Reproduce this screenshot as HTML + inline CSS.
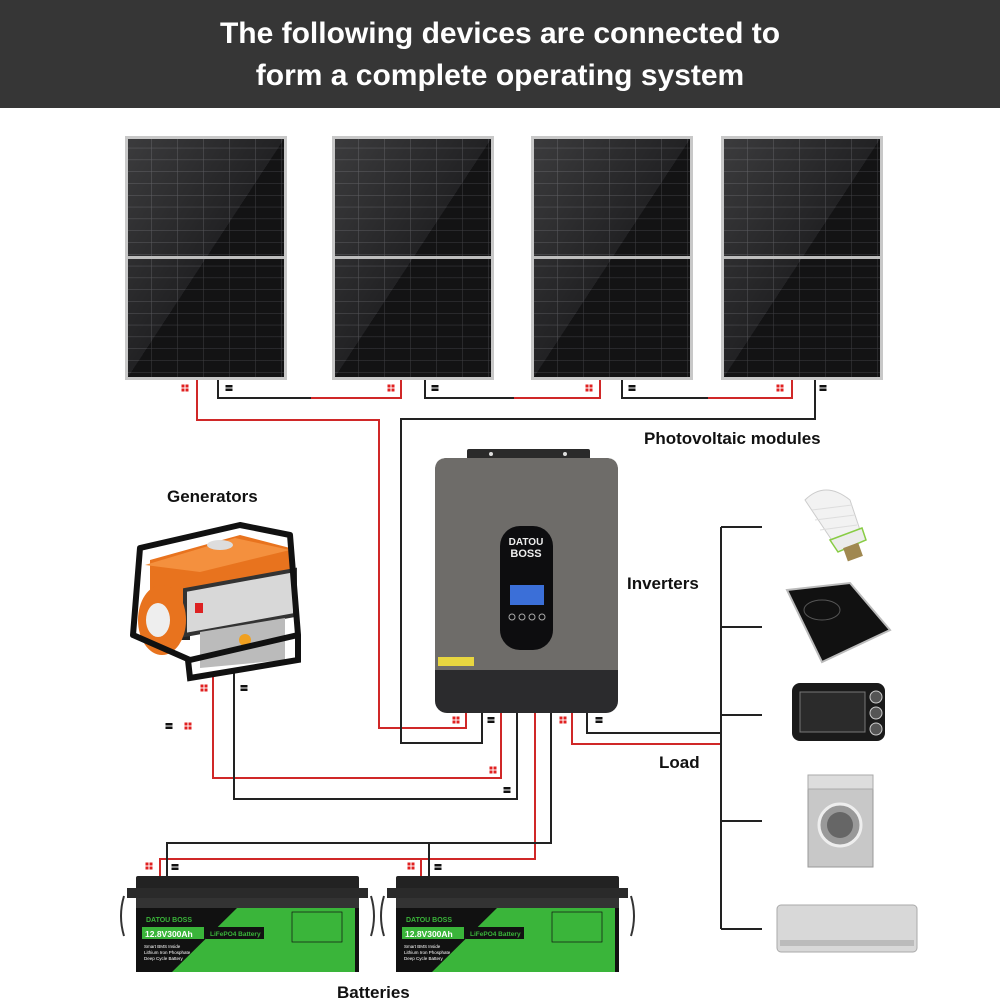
<!DOCTYPE html>
<html><head><meta charset="utf-8"><style>
html,body{margin:0;padding:0;background:#fff;width:1000px;height:1000px;overflow:hidden}
svg{display:block}
text{font-family:"Liberation Sans",Arial,sans-serif}
</style></head><body>
<svg width="1000" height="1000" viewBox="0 0 1000 1000" xmlns="http://www.w3.org/2000/svg">
<defs>
<pattern id="cells" x="0" y="0" width="26" height="11.8" patternUnits="userSpaceOnUse">
<rect width="26" height="11.8" fill="#161618"/>
<path d="M0 0H26M0 0V11.8" stroke="#4a4a4e" stroke-width="1"/>
</pattern>
<linearGradient id="gloss" x1="0" y1="0" x2="1" y2="1">
<stop offset="0" stop-color="#fff" stop-opacity="0.16"/>
<stop offset="0.5" stop-color="#fff" stop-opacity="0.05"/>
<stop offset="0.5" stop-color="#000" stop-opacity="0.15"/>
<stop offset="1" stop-color="#000" stop-opacity="0.15"/>
</linearGradient>
<g id="panel">
<rect x="0" y="0" width="162" height="244" fill="#c8c8c8"/>
<rect x="3" y="3" width="156" height="238" fill="url(#cells)"/>
<rect x="3" y="3" width="156" height="238" fill="url(#gloss)"/>
<rect x="3" y="120" width="156" height="3" fill="#bdbdbd"/>
</g>
<g id="plus"><rect x="-3.5" y="-3.5" width="7" height="7" fill="#e02020"/><path d="M-3.5 0H3.5M0 -3.5V3.5" stroke="#fff" stroke-width="1"/></g>
<g id="minus"><rect x="-3.5" y="-3" width="7" height="6" fill="#111"/><path d="M-3.5 0H3.5" stroke="#fff" stroke-width="1"/></g>
<g id="batt">
<rect x="4" y="0" width="223" height="20" fill="#222" rx="2"/>
<rect x="-5" y="12" width="241" height="10" fill="#2a2a2a"/>
<rect x="4" y="22" width="223" height="10" fill="#333"/>
<rect x="4" y="32" width="223" height="64" fill="#111"/>
<path d="M105 32H223V96H40Z" fill="#3ab53a"/>
<text x="14" y="46" fill="#3ab53a" font-size="7" font-weight="bold">DATOU BOSS</text>
<rect x="10" y="51" width="62" height="12" fill="#3ab53a"/>
<text x="13" y="61" fill="#fff" font-size="8.5" font-weight="bold">12.8V300Ah</text>
<rect x="74" y="51" width="58" height="12" fill="#111"/>
<text x="78" y="60" fill="#3ab53a" font-size="6.5" font-weight="bold">LiFePO4 Battery</text>
<text x="12" y="72" fill="#fff" font-size="4.5">Smart BMS Inside</text>
<text x="12" y="78" fill="#fff" font-size="4.5">Lithium Iron Phosphate</text>
<text x="12" y="84" fill="#fff" font-size="4.5">Deep Cycle Battery</text>
<rect x="160" y="36" width="50" height="30" fill="none" stroke="#111" stroke-width="0.7"/>
<path d="M-8 20Q-14 40 -8 60M239 20Q245 40 239 60" stroke="#333" stroke-width="2" fill="none"/>
</g>
</defs>

<rect x="0" y="0" width="1000" height="108" fill="#363636"/>
<text x="500" y="43" text-anchor="middle" fill="#fff" font-size="30" font-weight="bold">The following devices are connected to</text>
<text x="500" y="85" text-anchor="middle" fill="#fff" font-size="30" font-weight="bold">form a complete operating system</text>

<use href="#panel" x="125" y="136"/>
<use href="#panel" x="332" y="136"/>
<use href="#panel" x="531" y="136"/>
<use href="#panel" x="721" y="136"/>

<g fill="none" stroke-width="2">
<path d="M197 380V420H379V728H466V713" stroke="#d02828"/>
<path d="M218 380V398H311" stroke="#222"/><path d="M311 398H401V380" stroke="#d02828"/>
<path d="M425 380V398H514" stroke="#222"/><path d="M514 398H600V380" stroke="#d02828"/>
<path d="M622 380V398H708" stroke="#222"/><path d="M708 398H792V380" stroke="#d02828"/>
<path d="M815 380V419H401V743H482V713" stroke="#222"/>
<path d="M213 672V778H501V713" stroke="#d02828"/>
<path d="M234 672V799H517V713" stroke="#222"/>
<path d="M535 713V859H160V878M421 859V878" stroke="#d02828"/>
<path d="M551 713V843H167V878M429 843V878" stroke="#222"/>
<path d="M587 713V733H721" stroke="#222"/>
<path d="M572 713V744H721" stroke="#d02828"/>
<path d="M721 527V929M721 527H762M721 627H762M721 715H762M721 821H762M721 929H762" stroke="#222"/>
</g>

<use href="#plus" x="185" y="388"/><use href="#minus" x="229" y="388"/>
<use href="#plus" x="391" y="388"/><use href="#minus" x="435" y="388"/>
<use href="#plus" x="589" y="388"/><use href="#minus" x="632" y="388"/>
<use href="#plus" x="780" y="388"/><use href="#minus" x="823" y="388"/>
<use href="#plus" x="204" y="688"/><use href="#minus" x="244" y="688"/>
<use href="#minus" x="169" y="726"/><use href="#plus" x="188" y="726"/>
<use href="#plus" x="456" y="720"/><use href="#minus" x="491" y="720"/>
<use href="#plus" x="563" y="720"/><use href="#minus" x="599" y="720"/>
<use href="#plus" x="493" y="770"/><use href="#minus" x="507" y="790"/>
<use href="#plus" x="149" y="866"/><use href="#minus" x="175" y="867"/>
<use href="#plus" x="411" y="866"/><use href="#minus" x="438" y="867"/>

<rect x="467" y="449" width="123" height="12" fill="#2a2a2a" rx="2"/>
<circle cx="491" cy="454" r="2" fill="#ddd"/><circle cx="565" cy="454" r="2" fill="#ddd"/>
<rect x="435" y="458" width="183" height="255" rx="12" fill="#2b2b2d"/>
<path d="M447 458H606Q618 458 618 470V670H435V470Q435 458 447 458Z" fill="#6e6c69"/>
<rect x="500" y="526" width="53" height="124" rx="20" fill="#0d0d0f"/>
<text x="526" y="545" text-anchor="middle" fill="#eee" font-size="10" font-weight="bold">DATOU</text>
<text x="526" y="557" text-anchor="middle" fill="#eee" font-size="11" font-weight="bold">BOSS</text>
<rect x="510" y="585" width="34" height="20" fill="#3b6fd8"/>
<circle cx="512" cy="617" r="3" fill="none" stroke="#aaa"/><circle cx="522" cy="617" r="3" fill="none" stroke="#aaa"/>
<circle cx="532" cy="617" r="3" fill="none" stroke="#aaa"/><circle cx="542" cy="617" r="3" fill="none" stroke="#aaa"/>
<rect x="438" y="657" width="36" height="9" fill="#e8d640"/>

<!-- generator -->
<g>
<rect x="150" y="580" width="40" height="60" fill="#222"/>
<path d="M150 560L240 535L290 548L290 610L190 625L150 610Z" fill="#e8731e"/>
<path d="M145 565L235 538L290 550L200 572Z" fill="#f4903e"/>
<ellipse cx="220" cy="545" rx="13" ry="5" fill="#ddd"/>
<path d="M185 590L295 570L295 615L185 635Z" fill="#d8d8d8" stroke="#333" stroke-width="4"/>
<rect x="195" y="603" width="8" height="10" fill="#d22"/>
<path d="M200 632L285 618L285 660L200 668Z" fill="#bbb"/>
<ellipse cx="162" cy="620" rx="24" ry="35" fill="#e8731e"/>
<ellipse cx="158" cy="620" rx="12" ry="17" fill="#eee"/>
<circle cx="245" cy="640" r="6" fill="#f0a020"/>
<path d="M140 548L240 525L290 535L298 635L190 660L133 635Z" fill="none" stroke="#111" stroke-width="6" stroke-linejoin="round"/>
<path d="M188 660L190 678L298 660L298 635" fill="none" stroke="#111" stroke-width="6"/>
</g>

<use href="#batt" x="132" y="876"/>
<use href="#batt" x="392" y="876"/>

<g>
<path d="M805 500Q825 480 850 500L860 530L835 545Z" fill="#f2f2f2" stroke="#ccc"/>
<path d="M812 510L852 505M815 520L855 515M820 530L857 525" stroke="#ddd"/>
<path d="M830 540L862 528L866 540L838 552Z" fill="#ececec" stroke="#8c4" stroke-width="1.5"/>
<rect x="845" y="545" width="16" height="14" fill="#a08850" transform="rotate(-20 853 552)"/>
<path d="M787 590L850 583L890 630L822 662Z" fill="#111" stroke="#bbb" stroke-width="2"/>
<ellipse cx="822" cy="610" rx="18" ry="10" fill="none" stroke="#555"/>
<rect x="792" y="683" width="93" height="58" rx="8" fill="#1a1a1a"/>
<rect x="800" y="692" width="65" height="40" fill="#2b2b2b" stroke="#777"/>
<circle cx="876" cy="697" r="6" fill="#555" stroke="#ccc"/><circle cx="876" cy="713" r="6" fill="#555" stroke="#ccc"/><circle cx="876" cy="729" r="6" fill="#555" stroke="#ccc"/>
<rect x="808" y="775" width="65" height="92" fill="#c8c8c8" stroke="#999"/>
<rect x="808" y="775" width="65" height="14" fill="#ddd" stroke="#aaa"/>
<circle cx="840" cy="825" r="21" fill="#999" stroke="#eee" stroke-width="3"/>
<circle cx="840" cy="825" r="13" fill="#666"/>
<rect x="777" y="905" width="140" height="47" rx="4" fill="#d8d8d8" stroke="#aaa"/>
<rect x="780" y="940" width="134" height="6" fill="#bbb"/>
</g>

<g font-weight="bold" fill="#111" font-size="17">
<text x="644" y="444">Photovoltaic modules</text>
<text x="167" y="502">Generators</text>
<text x="627" y="589">Inverters</text>
<text x="659" y="768">Load</text>
<text x="337" y="998">Batteries</text>
</g>
</svg>
</body></html>
